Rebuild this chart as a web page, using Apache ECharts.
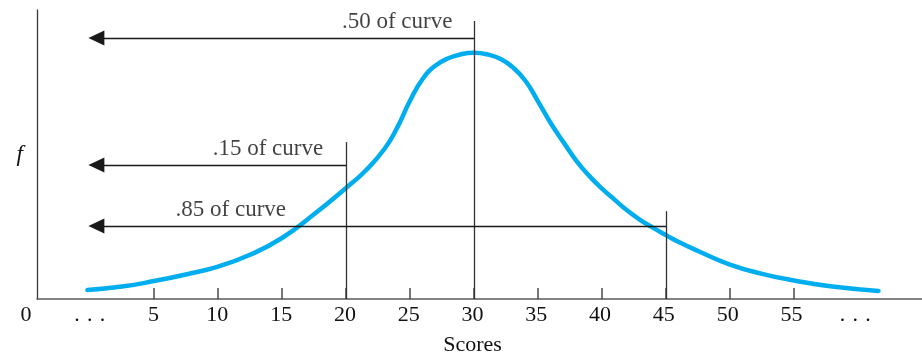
<!DOCTYPE html>
<html>
<head>
<meta charset="utf-8">
<title>Scores distribution</title>
<script src="https://cdn.jsdelivr.net/npm/echarts@6/dist/echarts.min.js"></script>
<style>
  html, body { margin: 0; padding: 0; background: #ffffff; }
  #chart { width: 922px; height: 361px; }
</style>
</head>
<body>
<div id="chart"></div>
<script>
// Frequency curve over the score scale (x = score, y = relative frequency f)
const curveScores = [-0.2, 2.5, 5, 7.5, 10, 12.5, 15, 17.5, 20, 21.5, 23, 24, 25, 26, 27, 28, 29, 30,
                     31, 32, 33, 34, 35, 36, 37, 38, 39, 40, 41, 42, 43, 44, 45, 46, 47.5, 50, 52.5, 55, 58, 61.6];
const curveValues = [3.1, 4.3, 6.2, 8.5, 11.2, 15.3, 21.1, 29.3, 38.4, 44.3, 51.9, 59.3, 68.6, 76.2, 80.8, 83.3, 84.7, 85.2,
                     84.7, 83.2, 80.3, 75.6, 68.4, 60.8, 54.2, 47.8, 42.6, 38.2, 34.3, 30.5, 27.3, 24.6, 22.1, 19.7, 16.6, 11.9, 8.7, 6.4, 4.3, 2.8];

// Tick labels along the score axis, one every 5 points starting at -5
const tickLabels = ['0', '.\u2004.\u2004.', '5', '10', '15', '20', '25', '30', '35', '40', '45', '50', '55', '.\u2004.\u2004.'];
const tickMarks = [5, 10, 15, 20, 25, 30, 35, 40, 45, 50, 55];

// Cut-off scores with their marker heights and the arrows pointing to the low end
const cutScores = [30, 20, 45];
const cutTops = [96.2, 54.3, 30.4];
const arrowLevels = [90.3, 46.4, 25.3];
const arrowEnd = 0.5;
const arrowLabels = ['.50 of curve', '.15 of curve', '.85 of curve'];
const labelScores = [24.0, 13.9, 11.0];

const serif = '"Liberation Serif", "DejaVu Serif", serif';
const ink = '#111111';

const verticalMarks = cutScores.map((s, i) => [{ coord: [s, 0] }, { coord: [s, cutTops[i]] }]);
const arrowMarks = cutScores.map((s, i) => [{ coord: [s, arrowLevels[i]] }, { coord: [arrowEnd, arrowLevels[i]] }]);
const labelPoints = labelScores.map((s, i) => ({ value: [s, arrowLevels[i]], name: arrowLabels[i] }));

const chart = echarts.init(document.getElementById('chart'), null, { renderer: 'canvas' });

chart.setOption({
  animation: false,
  backgroundColor: '#ffffff',
  grid: [
    { left: 37, right: 0, top: 10, bottom: 62 },
    { left: 26, right: 0, top: 10, bottom: 62 }
  ],
  xAxis: [
    {
      type: 'value', gridIndex: 0, min: -4.14, max: 65,
      axisLine: { show: true, onZero: false, lineStyle: { color: '#5b5b5b', width: 1.6 } },
      axisTick: { show: true, inside: true, length: 11, customValues: tickMarks, lineStyle: { color: '#4a4a4a', width: 1.5 } },
      axisLabel: { show: false },
      splitLine: { show: false }
    },
    {
      type: 'value', gridIndex: 1, min: -5, max: 65, interval: 5,
      axisLine: { show: false, onZero: false },
      axisTick: { show: false },
      splitLine: { show: false },
      axisLabel: {
        show: true, margin: 12, fontFamily: serif, fontSize: 22, color: ink,
        formatter: v => {
          const k = Math.round((v + 5) / 5);
          return k >= 0 && k < tickLabels.length ? tickLabels[k] : '';
        }
      },
      name: 'Scores', nameLocation: 'middle', nameGap: 42,
      nameTextStyle: { fontFamily: serif, fontSize: 22, color: ink }
    }
  ],
  yAxis: [
    {
      type: 'value', gridIndex: 0, min: 0, max: 100,
      axisLine: { show: true, onZero: false, lineStyle: { color: '#3a3a3a', width: 1.3 } },
      axisTick: { show: false },
      axisLabel: { show: false },
      splitLine: { show: false },
      name: 'f', nameLocation: 'middle', nameRotate: 0, nameGap: 14,
      nameTextStyle: { fontFamily: serif, fontStyle: 'italic', fontSize: 23, color: ink }
    },
    {
      type: 'value', gridIndex: 1, min: 0, max: 100, show: false
    }
  ],
  series: [
    {
      name: 'cut-offs',
      type: 'scatter',
      xAxisIndex: 0, yAxisIndex: 0,
      data: [],
      silent: true,
      markLine: {
        silent: true,
        animation: false,
        symbol: ['none', 'none'],
        label: { show: false },
        lineStyle: { color: '#333333', width: 1.3, type: 'solid' },
        data: verticalMarks
      }
    },
    {
      name: 'arrows',
      type: 'scatter',
      xAxisIndex: 0, yAxisIndex: 0,
      data: labelPoints,
      symbolSize: 0,
      silent: true,
      label: {
        show: true,
        position: [0, -16],
        align: 'center',
        verticalAlign: 'middle',
        formatter: p => p.name,
        fontFamily: serif, fontSize: 23, color: ink
      },
      markLine: {
        silent: true,
        animation: false,
        symbol: ['none', 'triangle'],
        symbolSize: [15, 16],
        label: { show: false },
        lineStyle: { color: '#1a1a1a', width: 1.3, type: 'solid' },
        itemStyle: { color: '#1a1a1a' },
        data: arrowMarks
      }
    },
    {
      name: 'f',
      type: 'line',
      xAxisIndex: 0, yAxisIndex: 0,
      data: curveScores.map((s, i) => [s, curveValues[i]]),
      smooth: 0.5,
      showSymbol: false,
      silent: true,
      lineStyle: { color: '#00aeef', width: 4.5, cap: 'round' },
      z: 3
    }
  ]
});
</script>
</body>
</html>
